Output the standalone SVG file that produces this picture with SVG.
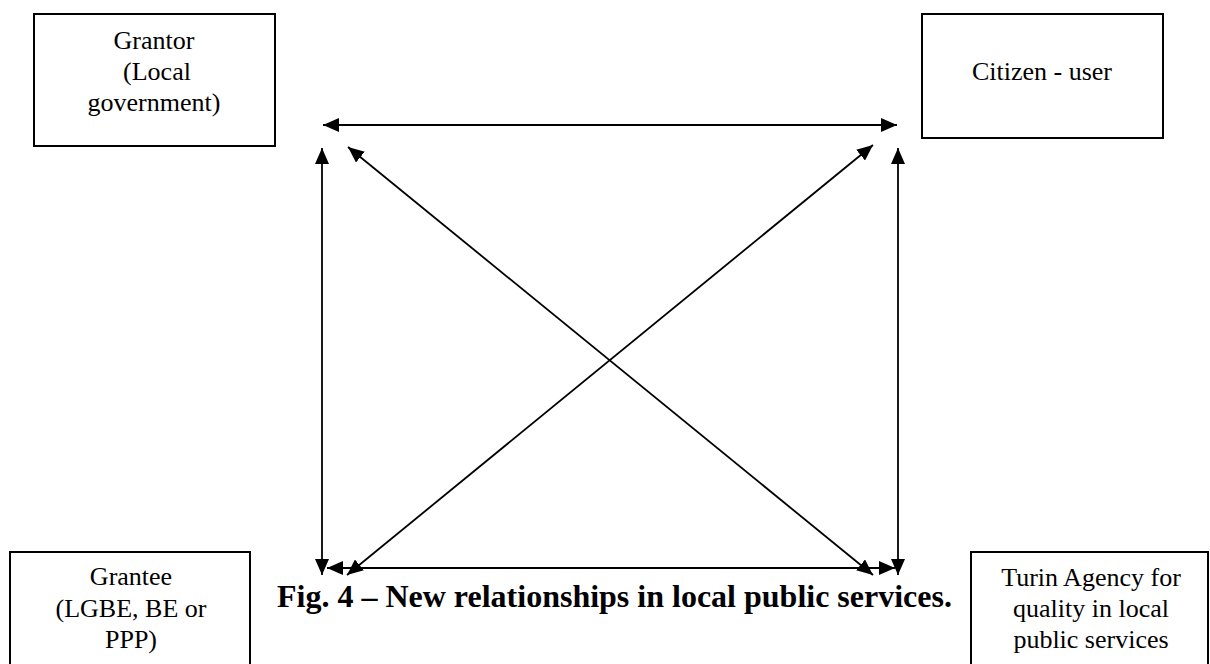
<svg xmlns="http://www.w3.org/2000/svg" width="1210" height="664" viewBox="0 0 1210 664">
<style>
.box{fill:#fff;stroke:#000;stroke-width:2}
.t{font-family:"Liberation Serif","Times New Roman",serif;font-size:26px;fill:#000;text-anchor:middle}
.cap{font-family:"Liberation Serif","Times New Roman",serif;font-size:32px;font-weight:bold;fill:#000}
.ln{stroke:#000;stroke-width:1.8;fill:none;marker-end:url(#ah);marker-start:url(#as)}
</style>
<defs>
<marker id="ah" viewBox="0 0 16 14" refX="16" refY="7" markerWidth="16" markerHeight="14" markerUnits="userSpaceOnUse" orient="auto">
<path d="M0,0 L16,7 L0,14 Z" fill="#000"/>
</marker>
<marker id="as" viewBox="0 0 16 14" refX="0" refY="7" markerWidth="16" markerHeight="14" markerUnits="userSpaceOnUse" orient="auto">
<path d="M16,0 L0,7 L16,14 Z" fill="#000"/>
</marker>
</defs>
<rect width="1210" height="664" fill="#fff"/>
<g id="grantor">
<rect class="box" x="34" y="14" width="241" height="132"/>
<text class="t" x="154" y="49">Grantor</text>
<text class="t" x="157" y="80">(Local</text>
<text class="t" x="154" y="111">government)</text>
</g>
<g id="citizen">
<rect class="box" x="922" y="14" width="241" height="124"/>
<text class="t" x="1042" y="80">Citizen - user</text>
</g>
<g id="grantee">
<rect class="box" x="10" y="552" width="240" height="120"/>
<text class="t" x="131" y="585">Grantee</text>
<text class="t" x="131" y="617">(LGBE, BE or</text>
<text class="t" x="131" y="648">PPP)</text>
</g>
<g id="turin">
<rect class="box" x="971" y="552" width="237" height="120"/>
<text class="t" x="1091" y="586">Turin Agency for</text>
<text class="t" x="1091" y="617">quality in local</text>
<text class="t" x="1091" y="648">public services</text>
</g>
<g id="caption">
<text class="cap" x="277" y="607">Fig. 4 – New relationships in local public services.</text>
</g>
<g id="connectors">
<line class="ln" x1="323" y1="125" x2="897" y2="125"/>
<line class="ln" x1="322" y1="148" x2="322" y2="575"/>
<line class="ln" x1="898" y1="148" x2="898" y2="575"/>
<line class="ln" x1="327" y1="568" x2="895" y2="568"/>
<line class="ln" x1="348" y1="147" x2="873" y2="575"/>
<line class="ln" x1="873" y1="145" x2="347" y2="575"/>
</g>
</svg>
